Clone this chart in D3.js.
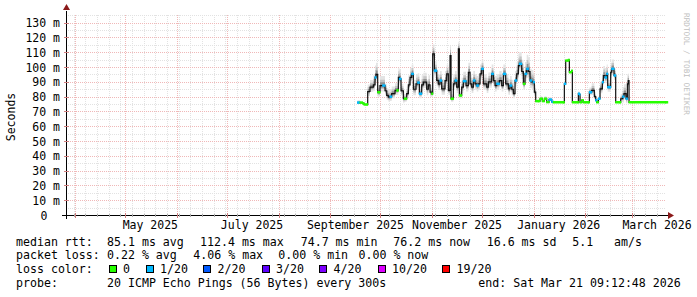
<!DOCTYPE html>
<html>
<head>
<meta charset="utf-8">
<script src="https://cdn.jsdelivr.net/npm/d3@7"></script>
<style>
  body { margin: 0; background: #fff; }
  svg text { font-family: "DejaVu Sans Mono", monospace; fill: #000; }
</style>
</head>
<body>
<svg id="chart" width="697" height="297"></svg>
<script>
// consolidated samples, days since 2025-09-01 00:00
const sampleDay = [16.3, 17.8, 19.3, 20.2, 22.0, 22.4, 23.8, 25.8, 26.8, 27.4, 28.4, 29.8, 31.4, 32.8, 33.8, 34.8, 35.8, 36.8, 38.8, 39.8,
  40.8, 41.4, 42.4, 43.8, 44.4, 45.8, 46.8, 47.8, 48.8, 49.8, 51.4, 52.4, 53.4, 54.8, 55.8, 57.8, 58.8, 59.8, 60.8, 61.4,
  62.4, 63.8, 64.8, 65.8, 66.8, 68.8, 69.8, 70.8, 71.8, 72.4, 73.8, 74.8, 75.8, 76.8, 77.4, 78.8, 79.8, 81.4, 82.8, 83.8,
  84.8, 85.8, 86.8, 87.8, 88.8, 89.8, 90.8, 91.8, 93.8, 94.8, 96.8, 97.8, 98.8, 99.8, 101.4, 102.8, 103.8, 105.2, 106.8, 107.8,
  108.8, 109.8, 110.8, 111.8, 112.8, 113.4, 114.8, 115.8, 116.8, 117.8, 118.8, 119.8, 120.8, 121.8, 122.4, 123.2, 124.8, 125.8, 127.2, 128.4,
  129.8, 131.2, 132.8, 133.8, 139.8, 140.4, 141.2, 142.8, 143.4, 144.8, 145.2, 148.6, 148.8, 149.4, 149.8, 150.8, 151.8, 154.8, 155.4, 155.8,
  156.8, 158.4, 159.2, 159.8, 160.8, 161.8, 163.2, 163.8, 164.8, 165.8, 166.4, 168.2, 168.8, 170.2, 171.2, 173.8, 174.2, 175.4, 176.2, 177.4,
  178.2, 178.8, 179.2, 201.2];
// median rtt in ms
const medianMs = [76.0, 76.0, 75.5, 74.7, 74.7, 83.5, 86.4, 88.0, 93.0, 95.0, 83.0, 87.5, 87.5, 84.0, 80.8, 79.7, 80.0, 82.0, 84.2, 84.2,
  93.1, 92.0, 84.0, 78.6, 78.6, 82.0, 88.0, 93.0, 95.4, 85.0, 88.7, 89.5, 82.0, 88.0, 89.8, 85.0, 88.0, 83.0, 82.0, 108.9,
  97.6, 91.0, 88.5, 90.9, 85.3, 90.9, 95.4, 84.2, 107.7, 78.6, 88.7, 90.9, 86.4, 112.4, 80.8, 86.4, 90.5, 87.5, 96.5, 88.7,
  86.4, 90.9, 88.7, 87.5, 88.7, 95.4, 98.8, 88.7, 86.4, 90.0, 95.4, 90.9, 87.5, 88.7, 90.9, 87.5, 95.4, 88.7, 85.3, 87.5,
  85.0, 82.0, 90.9, 95.4, 101.0, 102.2, 97.0, 88.7, 95.4, 98.8, 97.0, 90.9, 90.0, 89.8, 83.0, 77.0, 77.0, 78.6, 77.0, 78.6,
  76.3, 78.0, 76.5, 76.2, 76.2, 88.7, 104.4, 104.8, 96.5, 97.5, 76.2, 76.2, 82.0, 81.5, 76.2, 77.5, 76.2, 76.2, 83.0, 83.0,
  84.2, 80.0, 77.5, 76.2, 78.6, 85.3, 89.8, 94.3, 93.0, 95.4, 86.4, 96.5, 98.8, 94.3, 76.2, 76.2, 78.6, 80.0, 82.0, 78.6,
  88.7, 90.9, 76.2, 76.2];
// loss class index into lossColors, -1 = between classes
const lossClass = [1, 0, 0, 0, 0, -1, -1, -1, 1, -1, 0, -1, 1, -1, -1, -1, 1, -1, -1, 0,
  -1, 1, -1, -1, 0, -1, -1, -1, 1, -1, -1, 1, 1, -1, -1, -1, -1, -1, 0, -1,
  1, -1, -1, 1, -1, -1, -1, -1, -1, 0, -1, 1, -1, -1, 0, -1, 1, -1, -1, -1,
  -1, 1, -1, 1, -1, -1, 1, -1, -1, -1, 1, -1, -1, 1, -1, -1, 1, -1, -1, 1,
  -1, -1, 1, -1, -1, 1, -1, 0, 1, 1, -1, 1, -1, 1, -1, 0, 0, 0, 0, 0,
  0, 1, 1, 0, 0, 1, 0, 0, 0, 0, 0, 0, 1, 1, 0, 0, 0, 0, 1, 1,
  -1, -1, 1, 0, 1, -1, 1, -1, 1, 1, 1, -1, 1, 1, 0, 0, -1, 1, -1, 1,
  -1, -1, 0, 0];
// spread of the individual pings around the median (ms)
const smokeMs = [1, 0, 0, 0, 0, 3, 3, 4, 5, 5, 3, 4, 4, 3, 3, 3, 3, 3, 3, 3,
  4, 4, 3, 3, 2, 3, 4, 4, 4, 4, 4, 4, 3, 4, 4, 4, 4, 3, 2, 4,
  4, 4, 4, 4, 4, 4, 4, 3, 4, 2, 4, 4, 4, 3, 2, 4, 4, 4, 4, 4,
  4, 4, 4, 4, 4, 4, 4, 4, 4, 4, 4, 4, 4, 4, 4, 4, 4, 4, 4, 4,
  4, 3, 4, 5, 5, 5, 5, 4, 5, 6, 6, 5, 5, 4, 3, 0, 0, 1, 0, 1,
  0, 1, 0, 0, 0, 1, 0, 0, 0, 0, 0, 0, 1, 1, 0, 0, 0, 0, 2, 2,
  3, 2, 1, 0, 1, 3, 3, 4, 4, 4, 3, 4, 4, 3, 0, 0, 2, 4, 4, 3,
  4, 3, 0, 0];

const lossLabels = ["0", "1/20", "2/20", "3/20", "4/20", "10/20", "19/20"];
const lossColors = ["#26ff00", "#00b8ff", "#0059ff", "#5e00ff", "#7e00ff", "#dd00ff", "#ff0000"];
const yTicks = [0, 10, 20, 30, 40, 50, 60, 70, 80, 90, 100, 110, 120, 130];
const xLabels = ["May 2025", "July 2025", "September 2025", "November 2025", "January 2026", "March 2026"];
const rttStats = [85.1, 112.4, 74.7, 76.2, 16.6];
const rttPerSec = 5.1;
const lossStats = [0.22, 4.06, 0.00, 0.00];
const probeText = "20 ICMP Echo Pings (56 Bytes) every 300s";
const endText = "end: Sat Mar 21 09:12:48 2026";

const endTime = new Date(Date.UTC(2026, 2, 21, 9, 12, 48));
const startTime = d3.utcDay.offset(endTime, -360);
const seriesBase = new Date(Date.UTC(2025, 8, 1));

const L = 66, R = 666, T = 15, B = 215;
const svg = d3.select("#chart");
const x = d3.scaleUtc().domain([startTime, endTime]).range([L, R]);
const y = d3.scaleLinear().domain([0, 135.2]).range([B, T]);

const data = sampleDay.map((d, i) => ({
  t: new Date(+seriesBase + d * 864e5), v: medianMs[i], c: lossClass[i], s: smokeMs[i]
}));

// grid
const grid = svg.append("g").attr("shape-rendering", "crispEdges");
const weeks = d3.utcMonday.range(startTime, endTime);
const months = d3.utcMonth.range(startTime, endTime);
const px = v => Math.round(v) + 0.5;
const minorCol = "#e2e2e2", majorCol = "#f0b8b8";
grid.selectAll(".wk").data(weeks).join("line")
  .attr("x1", d => px(x(d))).attr("x2", d => px(x(d))).attr("y1", T).attr("y2", B)
  .attr("stroke", minorCol).attr("stroke-dasharray", "1,1");
const minorY = d3.range(5, 136, 10);
grid.selectAll(".my").data(minorY).join("line")
  .attr("x1", L).attr("x2", R).attr("y1", d => px(y(d))).attr("y2", d => px(y(d)))
  .attr("stroke", minorCol).attr("stroke-dasharray", "1,1");
grid.selectAll(".mo").data(months).join("line")
  .attr("x1", d => px(x(d))).attr("x2", d => px(x(d))).attr("y1", T).attr("y2", B)
  .attr("stroke", majorCol).attr("stroke-dasharray", "1,1");
grid.selectAll(".yt").data(yTicks.slice(1)).join("line")
  .attr("x1", L).attr("x2", R).attr("y1", d => px(y(d))).attr("y2", d => px(y(d)))
  .attr("stroke", majorCol).attr("stroke-dasharray", "1,1");

// smoke (stepped like rrdtool areas)
const bands = [[1.6, 1.0, "#e4e4e4"], [1.0, 0.6, "#c4c4c4"], [0.55, 0.35, "#909090"]];
bands.forEach(([up, dn, col]) => {
  svg.append("path").datum(data)
    .attr("fill", col)
    .attr("d", d3.area().curve(d3.curveStepAfter).x(d => x(d.t))
      .y0(d => y(d.v - d.s * dn)).y1(d => y(d.v + d.s * up)));
});

// median line
svg.append("path").datum(data)
  .attr("fill", "none").attr("stroke", "#111").attr("stroke-width", 1.2)
  .attr("d", d3.line().curve(d3.curveStepAfter).x(d => x(d.t)).y(d => y(d.v)));

// loss coloured median segments: each sample covers its own step
const seg = [];
data.forEach((d, i) => {
  if (d.c < 0) return;
  const x0 = x(d.t);
  const nx = i < data.length - 1 ? x(data[i + 1].t) : x0 + 2;
  const x1 = data[i + 1] && data[i + 1].c === d.c ? nx : Math.min(nx, x0 + 3);
  seg.push({ c: d.c, x0: x0 - 0.5, x1: x1 + 0.5, yy: y(d.v) });
});
svg.selectAll(".loss").data(seg).join("line")
  .attr("x1", d => d.x0).attr("x2", d => d.x1).attr("y1", d => d.yy).attr("y2", d => d.yy)
  .attr("stroke", d => lossColors[d.c]).attr("stroke-width", 2.5);

// axes
const ax = svg.append("g").attr("shape-rendering", "crispEdges");
ax.append("line").attr("x1", L - 4).attr("x2", R + 4).attr("y1", B + 0.5).attr("y2", B + 0.5).attr("stroke", "#000");
ax.append("line").attr("x1", L + 0.5).attr("x2", L + 0.5).attr("y1", B + 4).attr("y2", T - 4).attr("stroke", "#000");
ax.selectAll(".xt").data(weeks).join("line")
  .attr("x1", d => px(x(d))).attr("x2", d => px(x(d))).attr("y1", B - 1).attr("y2", B + 2).attr("stroke", "#aaa");
ax.selectAll(".xm").data(months).join("line")
  .attr("x1", d => px(x(d))).attr("x2", d => px(x(d))).attr("y1", B - 2).attr("y2", B + 3).attr("stroke", "#d08080");
ax.selectAll(".ym").data(yTicks.slice(1)).join("line")
  .attr("x1", L - 2).attr("x2", L + 3).attr("y1", d => px(y(d))).attr("y2", d => px(y(d))).attr("stroke", "#d08080");
svg.append("path").attr("fill", "#8b1a1a").attr("d", `M${R + 2},${B - 3}L${R + 8},${B + 0.5}L${R + 2},${B + 4}Z`);
svg.append("path").attr("fill", "#8b1a1a").attr("d", `M${L - 3},${T - 5}L${L + 0.5},${T - 11}L${L + 4},${T - 5}Z`);

// y labels
svg.selectAll(".yl").data(yTicks).join("text")
  .attr("x", d => d === 0 ? 47.5 : 60).attr("y", d => y(d) + 4.5)
  .attr("text-anchor", "end").attr("font-size", 11.5)
  .text(d => d === 0 ? "0" : d + " m");
svg.append("text").attr("transform", "translate(15,117) rotate(-90)")
  .attr("text-anchor", "middle").attr("font-size", 11.5).text("Seconds");

// x labels, centred in their month
svg.selectAll(".xl").data(xLabels).join("text")
  .attr("x", d => x(d3.utcDay.offset(d3.utcParse("%B %Y")(d), 15)))
  .attr("y", 229).attr("text-anchor", "middle").attr("font-size", 11.5)
  .text(d => d);

// watermark
svg.append("text").attr("transform", "translate(684,64) rotate(90)")
  .attr("text-anchor", "middle").attr("font-size", 7.7).style("fill", "#c0c0c0")
  .text("RRDTOOL / TOBI OETIKER");

// legend
const fs = 11.6;
const row = (yy, label) => svg.append("text").attr("x", 16).attr("y", yy).attr("font-size", fs).text(label);
const put = (xx, yy, s) => svg.append("text").attr("x", xx).attr("y", yy).attr("font-size", fs)
  .attr("xml:space", "preserve").text(s);
row(245.6, "median rtt:");
const rttText = [rttStats[0].toFixed(1) + " ms avg", rttStats[1].toFixed(1) + " ms max", rttStats[2].toFixed(1) + " ms min",
  rttStats[3].toFixed(1) + " ms now", rttStats[4].toFixed(1) + " ms sd", rttPerSec.toFixed(1), "am/s"];
[107, 200, 300.7, 393.3, 486.7, 572.3, 614].forEach((xx, i) => put(xx, 245.6, rttText[i]));
row(259.3, "packet loss:");
const lossText = ["avg", "max", "min", "now"].map((k, i) => lossStats[i].toFixed(2) + " % " + k);
[107, 193.3, 278.3, 358.5].forEach((xx, i) => put(xx, 259.3, lossText[i]));
row(273, "loss color:");
const boxX = [108.5, 145.5, 203, 261.5, 319, 377.5, 442];
lossLabels.forEach((lab, i) => {
  svg.append("rect").attr("x", boxX[i] + 0.5).attr("y", 265.5).attr("width", 7).attr("height", 7)
    .attr("fill", lossColors[i]).attr("stroke", "#000").attr("shape-rendering", "crispEdges");
  put(boxX[i] + 14.5, 273, lab);
});
row(286.7, "probe:");
put(107, 286.7, probeText);
put(478.3, 286.7, endText);
</script>
</body>
</html>
